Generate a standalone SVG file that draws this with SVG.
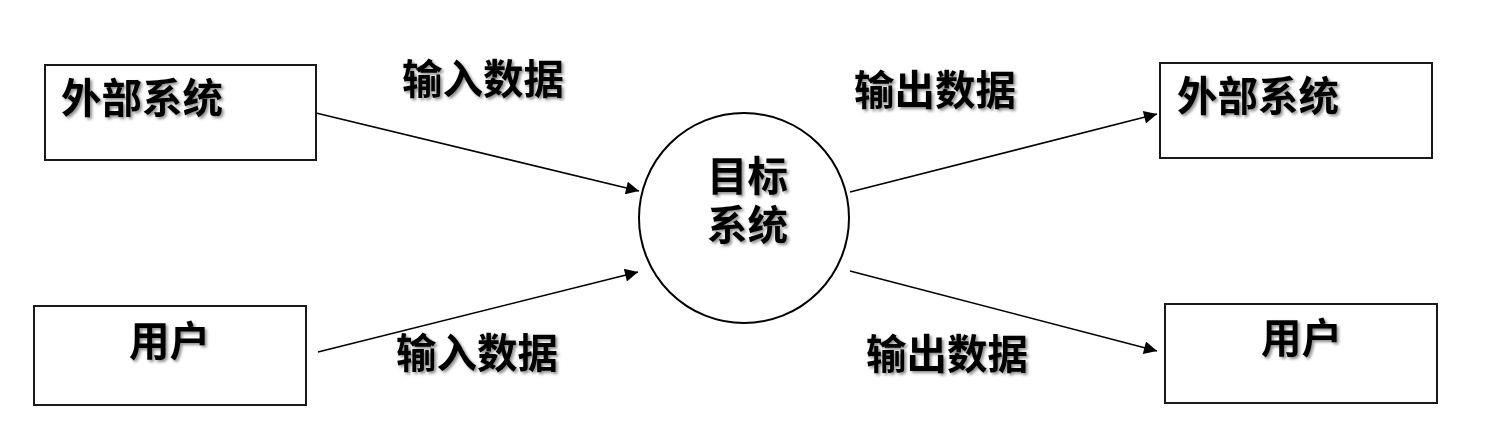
<svg xmlns="http://www.w3.org/2000/svg" width="1502" height="430" viewBox="0 0 1502 430">
<style>
.box{fill:#fff;stroke:#1a1a1a;stroke-width:2}
.circ{fill:#fff;stroke:#000;stroke-width:2}
.t{font-family:"Liberation Sans","Noto Sans CJK SC",sans-serif;font-weight:bold;font-size:40.5px;fill:#000;filter:url(#sh)}
.line{stroke:#000;stroke-width:1.6;fill:none;marker-end:url(#ah)}
</style>
<defs>
<filter id="sh" x="-10%" y="-20%" width="130%" height="150%">
<feDropShadow dx="2" dy="2" stdDeviation="1.5" flood-color="#000" flood-opacity="0.45"/>
</filter>
<marker id="ah" viewBox="0 0 10 10" refX="10" refY="5" markerWidth="16" markerHeight="13" markerUnits="userSpaceOnUse" orient="auto">
<path d="M0,0 L10,5 L0,10 z" fill="#000"/>
</marker>
</defs>
<g id="connectors">
<line class="line" x1="316" y1="113" x2="639" y2="191"/>
<line class="line" x1="318" y1="352" x2="638" y2="272"/>
<line class="line" x1="850" y1="192" x2="1157" y2="114"/>
<line class="line" x1="850" y1="271" x2="1157" y2="351"/>
<text class="t" x="402" y="94">输入数据</text>
<text class="t" x="854" y="105">输出数据</text>
<text class="t" x="396" y="368">输入数据</text>
<text class="t" x="866" y="369">输出数据</text>
</g>
<g id="ext1">
<rect class="box" x="45" y="65" width="271" height="95"/>
<text class="t" x="61" y="113">外部系统</text>
</g>
<g id="user1">
<rect class="box" x="34" y="306" width="272" height="99"/>
<text class="t" x="129" y="356">用户</text>
</g>
<g id="target">
<circle class="circ" cx="744" cy="218" r="105"/>
<text class="t" x="707" y="191">目标</text>
<text class="t" x="707" y="240">系统</text>
</g>
<g id="ext2">
<rect class="box" x="1160" y="63" width="272" height="95"/>
<text class="t" x="1177" y="111">外部系统</text>
</g>
<g id="user2">
<rect class="box" x="1165" y="304" width="272" height="99"/>
<text class="t" x="1261" y="353">用户</text>
</g>
</svg>
